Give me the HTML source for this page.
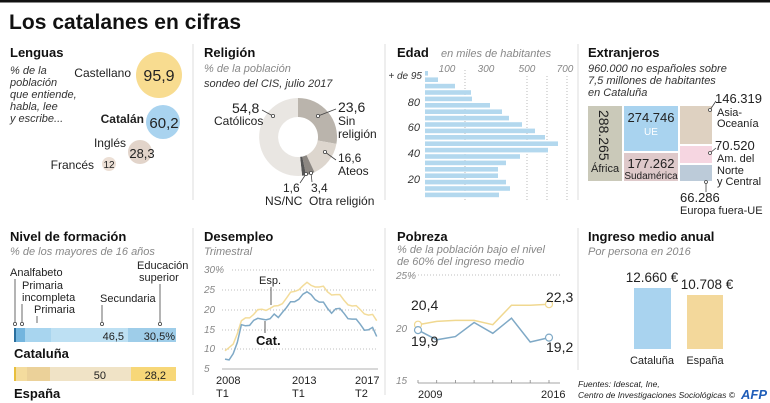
<!DOCTYPE html>
<html><head><meta charset="utf-8"><style>
html,body{margin:0;padding:0;background:#fff}
svg{display:block;font-family:"Liberation Sans",sans-serif}
.h{font-size:13px;font-weight:bold;fill:#111}
.it{font-style:italic;fill:#333;font-size:11px}
.g{font-style:italic;fill:#888;font-size:11px}
.t{fill:#222;font-size:11px}
.ax{font-style:italic;fill:#888;font-size:10px}
</style></head><body>
<svg width="770" height="403" viewBox="0 0 770 403">
<rect x="0" y="0" width="770" height="2.5" fill="#111"/>
<text x="9" y="29" font-size="21" font-weight="bold" fill="#111" textLength="232">Los catalanes en cifras</text>
<g stroke="#ddd" stroke-width="1">
<line x1="193" y1="44" x2="193" y2="200"/><line x1="385" y1="44" x2="385" y2="200"/><line x1="578" y1="44" x2="578" y2="200"/>
<line x1="193" y1="228" x2="193" y2="395"/><line x1="385" y1="228" x2="385" y2="395"/><line x1="578" y1="228" x2="578" y2="370"/>
</g>

<!-- Lenguas -->
<text x="10" y="57" class="h">Lenguas</text>
<g class="it"><text x="10" y="74">% de la</text><text x="10" y="86">población</text><text x="10" y="98">que entiende,</text><text x="10" y="110">habla, lee</text><text x="10" y="122">y escribe...</text></g>
<circle cx="159" cy="75" r="23" fill="#f8dc90"/>
<circle cx="163" cy="122" r="17" fill="#a9d3ef"/>
<circle cx="140" cy="152" r="12" fill="#e2d4ca"/>
<circle cx="109" cy="164" r="7" fill="#ecdfd5"/>
<g text-anchor="end" class="t"><text x="131" y="77" font-size="12">Castellano</text><text x="144" y="123" font-size="12" font-weight="bold">Catalán</text><text x="126" y="147" font-size="12">Inglés</text><text x="94" y="169" font-size="12">Francés</text></g>
<g text-anchor="middle" fill="#222"><text x="159" y="81" font-size="16">95,9</text><text x="164" y="128" font-size="15">60,2</text><text x="142" y="158" font-size="13">28,3</text><text x="109" y="168" font-size="10">12</text></g>

<!-- Religion -->
<text x="204" y="57" class="h">Religión</text>
<text x="204" y="72" class="g">% de la población</text>
<text x="204" y="87" class="it" font-size="9">sondeo del CIS, julio 2017</text>
<g transform="translate(298,137)">
<path d="M0,-39 A39,39 0 0 1 38.4,6.9 L19.7,3.5 A20,20 0 0 0 0,-20Z" fill="#bab4ac"/>
<path d="M38.4,6.9 A39,39 0 0 1 16.5,35.3 L8.5,18.1 A20,20 0 0 0 19.7,3.5Z" fill="#ddd6ce"/>
<path d="M16.5,35.3 A39,39 0 0 1 8.1,38.1 L4.2,19.6 A20,20 0 0 0 8.5,18.1Z" fill="#8c8782"/>
<path d="M8.1,38.1 A39,39 0 0 1 4.1,38.8 L2.1,19.9 A20,20 0 0 0 4.2,19.6Z" fill="#555"/>
<path d="M4.1,38.8 A39,39 0 1 1 0,-39 L0,-20 A20,20 0 1 0 2.1,19.9Z" fill="#e9e6e2"/>
</g>
<g fill="#222"><text x="232" y="113" font-size="14">54,8</text><text x="214" y="125" font-size="12">Católicos</text>
<text x="338" y="112" font-size="14">23,6</text><text x="338" y="125" font-size="12">Sin</text><text x="338" y="138" font-size="12">religión</text>
<text x="338" y="162" font-size="12">16,6</text><text x="338" y="175" font-size="12">Ateos</text>
<text x="283" y="192" font-size="12">1,6</text><text x="265" y="205" font-size="12">NS/NC</text>
<text x="311" y="192" font-size="12">3,4</text><text x="309" y="205" font-size="12">Otra religión</text></g>
<g stroke="#444" fill="#fff" stroke-width="0.8"><line x1="262" y1="110" x2="273" y2="116"/><circle cx="273" cy="116" r="1.6"/>
<line x1="336" y1="109" x2="318" y2="116"/><circle cx="318" cy="116" r="1.6"/>
<line x1="336" y1="160" x2="325" y2="152"/><circle cx="325" cy="152" r="1.6"/>
<line x1="300" y1="183" x2="306" y2="174"/><circle cx="306" cy="174" r="1.6"/>
<line x1="312" y1="182" x2="311" y2="173"/><circle cx="311" cy="173" r="1.6"/></g>

<!-- Edad -->
<text x="397" y="57" class="h">Edad</text>
<text x="441" y="57" class="g">en miles de habitantes</text>
<g class="ax" text-anchor="middle"><text x="447" y="72">100</text><text x="486" y="72">300</text><text x="527" y="72">500</text><text x="565" y="72">700</text></g>
<g stroke="#aaa" stroke-dasharray="1,2" stroke-width="0.8"><line x1="465" y1="70" x2="465" y2="200"/><line x1="527" y1="76" x2="527" y2="200"/><line x1="547" y1="76" x2="547" y2="200"/><line x1="567" y1="76" x2="567" y2="200"/></g>
<g fill="#b3d8ee">
<rect x="425" y="71" width="3" height="4.6"/><rect x="425" y="77.4" width="13" height="4.6"/><rect x="425" y="83.8" width="30" height="4.6"/><rect x="425" y="90.2" width="46" height="4.6"/><rect x="425" y="96.6" width="47" height="4.6"/><rect x="425" y="103" width="65" height="4.6"/><rect x="425" y="109.4" width="77" height="4.6"/><rect x="425" y="115.8" width="84" height="4.6"/><rect x="425" y="122.2" width="97" height="4.6"/><rect x="425" y="128.6" width="110" height="4.6"/><rect x="425" y="135" width="120" height="4.6"/><rect x="425" y="141.4" width="133" height="4.6"/><rect x="425" y="147.8" width="123" height="4.6"/><rect x="425" y="154.2" width="95" height="4.6"/><rect x="425" y="160.6" width="81" height="4.6"/><rect x="425" y="167" width="73" height="4.6"/><rect x="425" y="173.4" width="73" height="4.6"/><rect x="425" y="179.8" width="81" height="4.6"/><rect x="425" y="186.2" width="85" height="4.6"/><rect x="425" y="192.6" width="74" height="4.6"/></g>
<g class="it" text-anchor="end"><text x="422" y="79" font-size="10">+ de 95</text><text x="420" y="106">80</text><text x="420" y="131">60</text><text x="420" y="157">40</text><text x="420" y="183">20</text></g>

<!-- Extranjeros -->
<text x="588" y="57" class="h">Extranjeros</text>
<g class="it"><text x="588" y="72">960.000 no españoles sobre</text><text x="588" y="84">7,5 millones de habitantes</text><text x="588" y="96">en Cataluña</text></g>
<rect x="588" y="106" width="34" height="75" fill="#cac9b9"/>
<rect x="624" y="106" width="54" height="45" fill="#a9d3ef"/>
<rect x="624" y="153" width="54" height="28" fill="#dec9ca"/>
<rect x="680" y="106" width="32" height="38" fill="#ded1c1"/>
<rect x="680" y="146" width="32" height="17" fill="#f6d6e1"/>
<rect x="680" y="165" width="32" height="16" fill="#bccbd9"/>
<text transform="translate(599,110) rotate(90)" font-size="14" fill="#222">288.265</text>
<text x="591" y="172" font-size="11" fill="#222">África</text>
<text x="651" y="122" font-size="13" fill="#222" text-anchor="middle">274.746</text>
<text x="651" y="135" font-size="10" fill="#fff" text-anchor="middle">UE</text>
<text x="651" y="168" font-size="13" fill="#222" text-anchor="middle">177.262</text>
<text x="651" y="179" font-size="10" fill="#222" text-anchor="middle">Sudamérica</text>
<g fill="#222" font-size="11"><text x="715" y="103" font-size="13">146.319</text><text x="717" y="116">Asia-</text><text x="717" y="127">Oceanía</text>
<text x="715" y="150" font-size="13">70.520</text><text x="717" y="162">Am. del</text><text x="717" y="174">Norte</text><text x="717" y="185">y Central</text>
<text x="680" y="202" font-size="13">66.286</text><text x="680" y="214">Europa fuera-UE</text></g>
<g stroke="#444" fill="#fff" stroke-width="0.8"><line x1="716" y1="101" x2="710" y2="110"/><circle cx="710" cy="110" r="1.5"/><line x1="716" y1="148" x2="710" y2="153"/><circle cx="710" cy="153" r="1.5"/><line x1="706" y1="192" x2="706" y2="183"/><circle cx="706" cy="182" r="1.5"/></g>

<!-- Nivel -->
<text x="10" y="241" class="h">Nivel de formación</text>
<text x="10" y="255" class="g">% de los mayores de 16 años</text>
<g class="t" font-size="11"><text x="10" y="276">Analfabeto</text><text x="22" y="289">Primaria</text><text x="22" y="301">incompleta</text><text x="34" y="313">Primaria</text><text x="100" y="302">Secundaria</text><text x="137" y="269">Educación</text><text x="139" y="281">superior</text></g>
<g stroke="#444" fill="#fff" stroke-width="0.8"><line x1="15" y1="279" x2="15" y2="323"/><circle cx="15" cy="324" r="1.6"/><line x1="22" y1="304" x2="22" y2="323"/><circle cx="22" cy="324" r="1.6"/><line x1="37" y1="316" x2="37" y2="323"/><line x1="102" y1="305" x2="102" y2="323"/><circle cx="102" cy="324" r="1.6"/><line x1="160" y1="284" x2="160" y2="323"/><circle cx="160" cy="324" r="1.6"/></g>
<rect x="14" y="328" width="162" height="14" fill="#bde0f3"/><rect x="14" y="328" width="2" height="14" fill="#2a6f9e"/><rect x="16" y="328" width="9" height="14" fill="#73b5de"/><rect x="25" y="328" width="26" height="14" fill="#a8d5ef"/><rect x="128" y="328" width="48" height="14" fill="#9ecde9"/>
<text x="124" y="340" class="t" font-size="12" text-anchor="end">46,5</text><text x="175" y="340" class="t" font-size="12" text-anchor="end">30,5%</text>
<text x="14" y="358" class="h" font-size="12">Cataluña</text>
<rect x="14" y="367" width="162" height="14" fill="#f0e3c6"/><rect x="14" y="367" width="2" height="14" fill="#e8bf3c"/><rect x="16" y="367" width="11" height="14" fill="#f4dc9e"/><rect x="27" y="367" width="23" height="14" fill="#ebd199"/><rect x="131" y="367" width="45" height="14" fill="#f7d778"/>
<text x="106" y="379" class="t" font-size="12" text-anchor="end">50</text><text x="166" y="379" class="t" font-size="12" text-anchor="end">28,2</text>
<text x="14" y="398" class="h" font-size="12">España</text>

<!-- Desempleo -->
<text x="204" y="241" class="h">Desempleo</text>
<text x="204" y="255" class="g">Trimestral</text>
<g class="ax" font-size="10"><text x="204" y="273">30%</text><text x="204" y="293">25</text><text x="204" y="313">20</text><text x="204" y="333">15</text><text x="204" y="352">10</text><text x="204" y="372">5</text></g>
<g stroke="#aaa" stroke-dasharray="1,2" stroke-width="0.8"><line x1="232" y1="270" x2="376" y2="270"/><line x1="222" y1="290" x2="376" y2="290"/><line x1="222" y1="310" x2="376" y2="310"/><line x1="222" y1="330" x2="376" y2="330"/><line x1="222" y1="349" x2="376" y2="349"/></g>
<line x1="222" y1="369" x2="378" y2="369" stroke="#999" stroke-width="0.8"/>
<polyline fill="none" stroke="#f3dc9a" stroke-width="1.5" points="225,350.8 229.1,347.6 233.2,344.1 237.3,333.8 241.4,320.7 245.5,317.9 249.6,317.9 253.7,314.4 257.8,309.6 261.9,309.2 266,310.4 270.1,308.4 274.2,306 278.3,305.6 282.4,303.7 286.5,298.1 290.6,292.2 294.7,291.4 298.8,289.8 302.9,285.8 307,282.3 311.1,285.4 315.2,287 319.3,287 323.4,286.2 327.5,291.8 331.6,295 335.7,294.6 339.8,294.6 343.9,300.1 348,304.8 352.1,306 356.2,305.6 360.3,309.6 364.4,314 368.5,315.1 372.6,314.4 376.7,320.7"/>
<polyline fill="none" stroke="#7fa9c6" stroke-width="1.5" points="225,359.1 229.1,359.9 233.2,353.6 237.3,342.5 241.4,324.7 245.5,325.8 249.6,325.4 253.7,320.3 257.8,318.3 261.9,319.1 266,319.9 270.1,318.7 274.2,314 278.3,317.5 282.4,312.4 286.5,307.6 290.6,301.7 294.7,301.7 298.8,299.3 302.9,294.2 307,291.8 311.1,294.6 315.2,299.7 319.3,302.1 323.4,302.1 327.5,308.4 331.6,313.2 335.7,308.8 339.8,308.4 343.9,313.2 348,318.7 352.1,319.1 356.2,319.1 360.3,324.3 364.4,330.2 368.5,329.8 372.6,327.4 376.7,336.5"/>
<text x="259" y="284" class="t" font-size="12">Esp.</text><line x1="271" y1="287" x2="271" y2="305" stroke="#333" stroke-width="0.8"/>
<text x="256" y="345" class="h" font-size="12">Cat.</text><line x1="265" y1="321" x2="265" y2="333" stroke="#333" stroke-width="0.8"/>
<g class="t" font-size="11"><text x="216" y="384">2008</text><text x="216" y="397">T1</text><text x="292" y="384">2013</text><text x="292" y="397">T1</text><text x="355" y="384">2017</text><text x="355" y="397">T2</text></g>

<!-- Pobreza -->
<text x="397" y="241" class="h">Pobreza</text>
<text x="397" y="253" class="g">% de la población bajo el nivel</text>
<text x="397" y="265" class="g">de 60% del ingreso medio</text>
<g class="ax"><text x="396" y="279">25%</text><text x="396" y="332">20</text><text x="396" y="384">15</text></g>
<line x1="418" y1="275" x2="560" y2="275" stroke="#aaa" stroke-dasharray="1,2" stroke-width="0.8"/>
<line x1="418" y1="383" x2="560" y2="383" stroke="#888" stroke-width="0.8"/>
<g stroke="#888" stroke-width="0.8"><line x1="418" y1="380" x2="418" y2="383"/><line x1="436.7" y1="380" x2="436.7" y2="383"/><line x1="455.4" y1="380" x2="455.4" y2="383"/><line x1="474.1" y1="380" x2="474.1" y2="383"/><line x1="492.8" y1="380" x2="492.8" y2="383"/><line x1="511.5" y1="380" x2="511.5" y2="383"/><line x1="530.2" y1="380" x2="530.2" y2="383"/><line x1="549" y1="380" x2="549" y2="383"/></g>
<polyline fill="none" stroke="#f0d890" stroke-width="1.5" points="418,324.7 436.7,321.4 455.4,320.4 474.1,320.4 492.8,324.7 511.5,305.2 530.2,305.2 549,304.2"/>
<polyline fill="none" stroke="#7fa9c6" stroke-width="1.5" points="418,330.1 436.7,339.8 455.4,336.6 474.1,322.5 492.8,333.3 511.5,318.2 530.2,342 549,337.6"/>
<circle cx="418" cy="324.7" r="3.5" fill="#fff" stroke="#f0d890" stroke-width="1.2"/><circle cx="549" cy="304.2" r="3.5" fill="#fff" stroke="#f0d890" stroke-width="1.2"/>
<circle cx="418" cy="330.1" r="3.5" fill="#fff" stroke="#7fa9c6" stroke-width="1.2"/><circle cx="549" cy="337.6" r="3.5" fill="#fff" stroke="#7fa9c6" stroke-width="1.2"/>
<g fill="#222" font-size="14"><text x="411" y="310">20,4</text><text x="411" y="346">19,9</text><text x="546" y="302">22,3</text><text x="546" y="352">19,2</text></g>
<g class="t" font-size="11"><text x="418" y="398">2009</text><text x="541" y="398">2016</text></g>

<!-- Ingreso -->
<text x="588" y="241" class="h">Ingreso medio anual</text>
<text x="588" y="255" class="g">Por persona en 2016</text>
<rect x="634" y="288" width="37" height="61" fill="#a9d3ef"/>
<rect x="687" y="295" width="36" height="54" fill="#f3d89b"/>
<g fill="#222" font-size="13.5" text-anchor="middle"><text x="652" y="282">12.660 €</text><text x="707" y="289">10.708 €</text></g>
<g class="t" font-size="12" text-anchor="middle"><text x="652" y="364">Cataluña</text><text x="705" y="364">España</text></g>
<g font-style="italic" fill="#222" font-size="8.5"><text x="578" y="387">Fuentes: Idescat, Ine,</text><text x="578" y="398">Centro de Investigaciones Sociológicas ©</text></g>
<text x="741" y="399" font-size="13" font-weight="bold" font-style="italic" fill="#1f5db8">AFP</text>
</svg>
</body></html>
